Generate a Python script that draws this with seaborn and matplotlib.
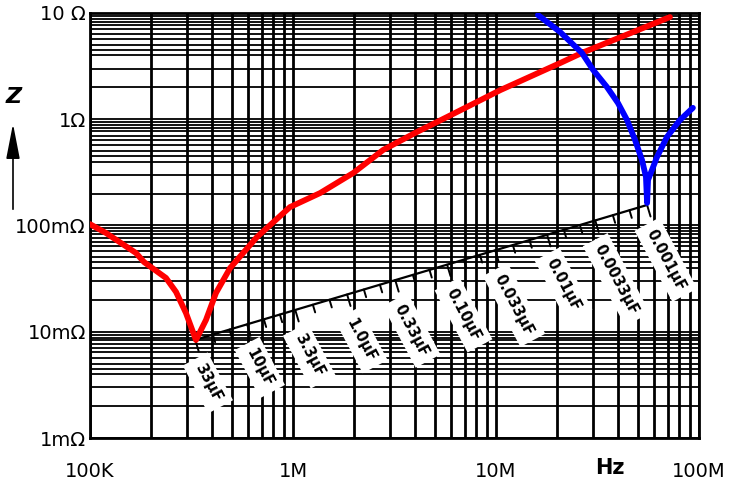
import numpy as np
import pandas as pd
import matplotlib
matplotlib.use("Agg")
import matplotlib.pyplot as plt
from matplotlib.patches import FancyArrowPatch
from matplotlib.ticker import FixedLocator, NullFormatter
import seaborn as sns

# Impedance curves (frequency in Hz, impedance in ohms)
red_freq = [1.00e5, 1.20e5, 1.685e5, 1.845e5, 2.367e5, 2.653e5, 2.97e5,
            3.326e5, 3.726e5, 4.175e5, 4.90e5, 6.65e5, 9.66e5, 1.36e6,
            1.98e6, 2.78e6, 4.08e6, 5.74e6, 1.05e7, 2.07e7, 2.65e7, 7.19e7]
red_z = [0.103, 0.0849, 0.0551, 0.0453, 0.0321, 0.0237, 0.0150,
         0.00836, 0.0129, 0.0232, 0.0398, 0.078, 0.149, 0.202,
         0.312, 0.514, 0.759, 1.05, 1.88, 3.38, 4.21, 9.16]
blue_freq = [1.61e7, 2.07e7, 2.65e7, 3.01e7, 3.52e7, 3.99e7, 4.42e7, 4.84e7,
             5.24e7, 5.48e7, 5.55e7, 5.61e7, 6.21e7, 6.95e7, 8.06e7, 9.33e7]
blue_z = [9.57, 6.62, 4.21, 2.91, 2.01, 1.42, 0.984, 0.638,
          0.413, 0.286, 0.163, 0.268, 0.441, 0.681, 0.984, 1.28]

# Resonance scale: capacitance values (µF) along the diagonal line
scale_caps = [33, 22, 15, 10, 6.8, 4.7, 3.3, 2.2, 1.5, 1.0, 0.68, 0.47,
              0.33, 0.22, 0.15, 0.10, 0.068, 0.047, 0.033, 0.022, 0.015,
              0.01, 0.0068, 0.0047, 0.0033, 0.0022, 0.0015, 0.001]
scale_labels = {33: "33μF", 10: "10μF", 3.3: "3.3μF", 1.0: "1.0μF",
                0.33: "0.33μF", 0.10: "0.10μF", 0.033: "0.033μF",
                0.01: "0.01μF", 0.0033: "0.0033μF", 0.001: "0.001μF"}
scale_freq = [3.3e5, 5.55e7]   # ends of the scale line
scale_z = [8.4e-3, 0.156]

x_ticks = [1e5, 1e6, 1e7, 1e8]
x_ticklabels = ["100K", "1M", "10M", "100M"]
y_ticks = [1e-3, 1e-2, 1e-1, 1, 10]
y_ticklabels = ["1mΩ", "10mΩ", "100mΩ", "1Ω", "10 Ω"]
y_grid_steps = [2, 3, 4, 4.5, 5, 5.7, 6.4, 7, 7.7, 8.3, 8.8, 9.4]

sns.set_style("white")
plt.rcParams["font.family"] = ["DejaVu Sans"]
plt.rcParams["text.color"] = "black"
plt.rcParams["xtick.color"] = "black"
plt.rcParams["ytick.color"] = "black"

W, H = 732, 486
fig = plt.figure(figsize=(W / 100, H / 100), dpi=100)
ax = fig.add_axes([90 / W, 48 / H, 609 / W, 425 / H])
ax.set_xscale("log")
ax.set_yscale("log")
ax.set_xlim(1e5, 1e8)
ax.set_ylim(1e-3, 10)

# Grid
x_minor = [k * 10.0 ** d for d in (5, 6, 7) for k in range(2, 10)]
y_minor = [k * 10.0 ** d for d in (-3, -2, -1, 0) for k in y_grid_steps]
ax.xaxis.set_major_locator(FixedLocator(x_ticks))
ax.yaxis.set_major_locator(FixedLocator(y_ticks))
ax.xaxis.set_minor_locator(FixedLocator(x_minor))
ax.yaxis.set_minor_locator(FixedLocator(y_minor))
ax.xaxis.set_minor_formatter(NullFormatter())
ax.yaxis.set_minor_formatter(NullFormatter())
ax.set_xticklabels(x_ticklabels)
ax.set_yticklabels(y_ticklabels)
ax.grid(True, which="both", axis="x", color="black", lw=2.0)
ax.grid(True, which="both", axis="y", color="black", lw=1.3)
ax.tick_params(which="both", length=0)
ax.tick_params(axis="x", pad=17, labelsize=14, labelcolor="black")
ax.tick_params(axis="y", pad=3, labelsize=14, labelcolor="black")
for s in ax.spines.values():
    s.set_color("black")
    s.set_linewidth(2)

red_df = pd.DataFrame({"f": red_freq, "z": red_z})
blue_df = pd.DataFrame({"f": blue_freq, "z": blue_z})
sns.lineplot(data=red_df, x="f", y="z", color="#ff0000", lw=4.2,
             sort=False, estimator=None, ax=ax, zorder=5)
sns.lineplot(data=blue_df, x="f", y="z", color="#0000ff", lw=4.2,
             sort=False, estimator=None, ax=ax, zorder=5)
ax.set_xlabel("")
ax.set_ylabel("")

# Diagonal capacitance scale
ax.plot(scale_freq, scale_z, color="black", lw=1.6, zorder=4)
p0 = ax.transData.transform((scale_freq[0], scale_z[0]))
p1 = ax.transData.transform((scale_freq[1], scale_z[1]))
d = (p1 - p0) / np.linalg.norm(p1 - p0)
perp = np.array([d[1], -d[0]])  # points below the line
span = np.log(scale_caps[0] / scale_caps[-1])
inv = ax.transData.inverted()
for c in scale_caps:
    t = np.log(scale_caps[0] / c) / span
    p = p0 + t * (p1 - p0)
    major = c in scale_labels
    length = 12 if major else 8
    q = p + perp * length
    a, b = inv.transform(p), inv.transform(q)
    ax.plot([a[0], b[0]], [a[1], b[1]], color="black", lw=1.4, zorder=4)
    if major:
        ax.annotate(scale_labels[c], xy=(a[0], a[1]), xytext=(3, -25),
                    textcoords="offset pixels", rotation=-62,
                    rotation_mode="anchor", ha="left", va="center",
                    fontsize=10.5, fontweight="bold", color="black", zorder=3,
                    bbox=dict(boxstyle="square,pad=0.45", fc="white",
                              ec="none"))

# Frequency unit and impedance axis marker
fig.text(610 / W, 1 - 468 / H, "Hz", ha="center", va="center",
         fontsize=15, fontweight="bold", color="black")
fig.text(14 / W, 1 - 97 / H, "Z", ha="center", va="center",
         fontsize=16, fontstyle="italic", fontweight="bold", color="black")
fig.add_artist(FancyArrowPatch(
    (13 / W, 1 - 212 / H), (13 / W, 1 - 121 / H),
    transform=fig.transFigure, arrowstyle="-|>,head_length=1.8,head_width=0.35",
    color="black", lw=1.2, mutation_scale=12))

fig.savefig("out.png", dpi=100)
